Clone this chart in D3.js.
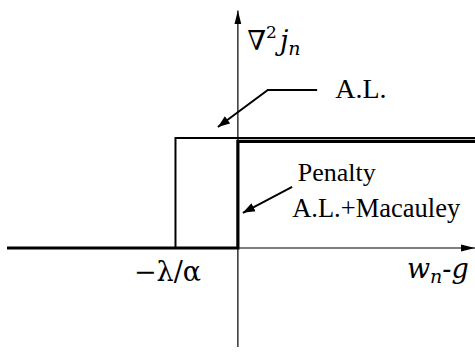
<!DOCTYPE html>
<html>
<head>
<meta charset="utf-8">
<script src="https://cdn.jsdelivr.net/npm/d3@7"></script>
<style>
  body { margin: 0; background: #fff; }
  svg { display: block; }
  text { font-family: "Liberation Serif", "Times New Roman", serif; fill: #000; }
  .math { font-family: "DejaVu Serif", "Liberation Serif", serif; }
</style>
</head>
<body>
<svg id="chart"></svg>
<script>
// step data: x in units of lambda/alpha, y = second derivative of j_n
const threshold = -1;                 // -lambda/alpha
const xExtent = [-3.7, 3.8];
const yExtent = [-0.9, 2.16];
const alX = [-3.7, threshold, threshold, 3.8];
const alY = [0, 0, 1, 1];
const penX = [-3.7, 0, 0, 3.8];
const penY = [0, 0, 0.97, 0.97];

// leader lines (data coords)
const alLeader = [[1.27, 1.436], [0.48, 1.436], [-0.32, 1.1]];
const penLeader = [[0.87, 0.555], [0.08, 0.32]];

const width = 475;
const height = 354;

const x = d3.scaleLinear().domain(xExtent).range([7, 475]);
const y = d3.scaleLinear().domain([0, 1]).range([248, 138]);

const svg = d3.select('#chart')
  .attr('width', width)
  .attr('height', height);

const defs = svg.append('defs');
defs.append('marker')
  .attr('id', 'axisHead')
  .attr('markerUnits', 'userSpaceOnUse')
  .attr('viewBox', '0 -4 14 8')
  .attr('refX', 14).attr('refY', 0)
  .attr('markerWidth', 14).attr('markerHeight', 8)
  .attr('orient', 'auto')
  .append('path').attr('d', 'M0,-3.5L14,0L0,3.5Z').attr('fill', '#000');
defs.append('marker')
  .attr('id', 'leadHead')
  .attr('markerUnits', 'userSpaceOnUse')
  .attr('viewBox', '0 -5 12 10')
  .attr('refX', 12).attr('refY', 0)
  .attr('markerWidth', 12).attr('markerHeight', 10)
  .attr('orient', 'auto')
  .append('path').attr('d', 'M0,-4.5L12,0L0,4.5Z').attr('fill', '#000');

// axes
svg.append('line')
  .attr('x1', x(xExtent[0])).attr('x2', x(xExtent[1]))
  .attr('y1', y(0)).attr('y2', y(0))
  .attr('stroke', '#000').attr('stroke-width', 1.2)
  .attr('marker-end', 'url(#axisHead)');
svg.append('line')
  .attr('x1', x(0)).attr('x2', x(0))
  .attr('y1', y(yExtent[0])).attr('y2', y(yExtent[1]))
  .attr('stroke', '#000').attr('stroke-width', 1.2)
  .attr('marker-end', 'url(#axisHead)');

const line = d3.line()
  .x(d => x(d[0]))
  .y(d => y(d[1]));

svg.append('path')
  .datum(d3.zip(alX, alY))
  .attr('d', line)
  .attr('fill', 'none')
  .attr('stroke', '#000')
  .attr('stroke-width', 2);

svg.append('path')
  .datum(d3.zip(penX, penY))
  .attr('d', line)
  .attr('fill', 'none')
  .attr('stroke', '#000')
  .attr('stroke-width', 3.2);

// leaders
[alLeader, penLeader].forEach(pts => {
  svg.append('path')
    .datum(pts)
    .attr('d', line)
    .attr('fill', 'none')
    .attr('stroke', '#000')
    .attr('stroke-width', 2)
    .attr('marker-end', 'url(#leadHead)');
});

// labels
svg.append('text')
  .attr('x', x(1.56)).attr('y', y(1.36))
  .attr('font-size', 28)
  .text('A.L.');
svg.append('text')
  .attr('x', x(0.96)).attr('y', y(0.61))
  .attr('font-size', 26)
  .text('Penalty');
svg.append('text')
  .attr('x', x(0.87)).attr('y', y(0.28))
  .attr('font-size', 26.5)
  .text('A.L.+Macauley');

const yl = svg.append('text')
  .attr('class', 'math')
  .attr('x', x(0.15)).attr('y', y(1.8))
  .attr('font-size', 27);
yl.append('tspan').text('\u2207');
yl.append('tspan').attr('font-size', 17).attr('dy', -12).text('2');
yl.append('tspan').attr('font-style', 'italic').attr('dy', 12).attr('dx', 3).text('j');
yl.append('tspan').attr('font-style', 'italic').attr('font-size', 19).attr('dy', 5).text('n');

svg.append('text')
  .attr('class', 'math')
  .attr('x', x(threshold) - 8).attr('y', y(-0.3))
  .attr('text-anchor', 'middle')
  .attr('font-size', 27)
  .text('\u2212\u03bb/\u03b1');

const xl = svg.append('text')
  .attr('class', 'math')
  .attr('x', x(2.71)).attr('y', y(-0.27))
  .attr('font-size', 27)
  .attr('font-style', 'italic');
xl.append('tspan').text('w');
xl.append('tspan').attr('font-size', 19).attr('dy', 5).text('n');
xl.append('tspan').attr('dy', -5).text('-g');
</script>
</body>
</html>
